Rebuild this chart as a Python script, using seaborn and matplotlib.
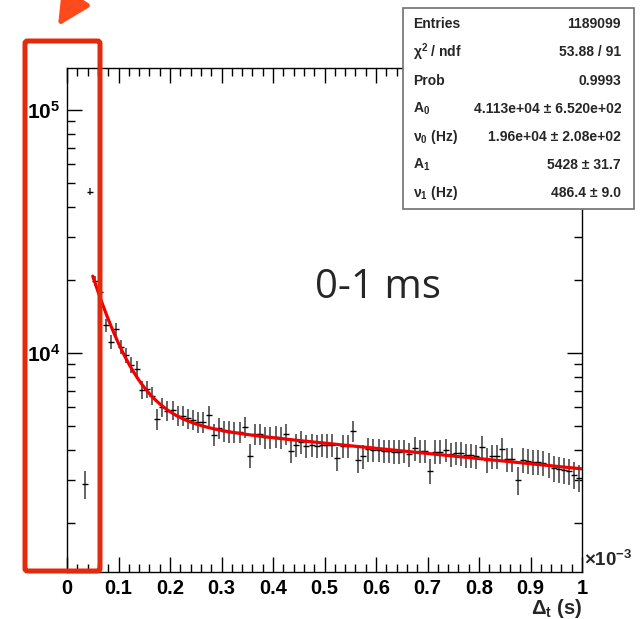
import numpy as np
import pandas as pd
import seaborn as sns
import matplotlib.pyplot as plt
from matplotlib.patches import Rectangle, FancyBboxPatch
from matplotlib.ticker import MultipleLocator, LogLocator, NullFormatter

# histogram: 1e-5 s bins, first filled bin centred at 0.035e-3 s
t_first = 0.035   # x10^-3 s
bin_width = 0.01  # x10^-3 s
counts = [2890, 46100, 19800, 17800, 13030, 11130, 12560, 10620, 9810, 8930,
          8590, 7050, 7120, 6660, 5350, 6010, 5800, 5830, 5510, 5510,
          5390, 5320, 5200, 5190, 5550, 4620, 4900, 4790, 4750, 4730,
          4730, 4970, 3780, 4640, 4640, 4500, 4500, 4530, 4480, 4640,
          3970, 4180, 4315, 4140, 4180, 4160, 4190, 4170, 4180, 3690,
          4140, 4140, 4790, 3630, 3770, 4015, 3990, 3990, 3960, 3960,
          3930, 3930, 3960, 3840, 4050, 3960, 3960, 3280, 3930, 3930,
          3990, 3840, 3890, 3870, 3810, 3810, 3770, 4115, 3630, 3770,
          3770, 4015, 3650, 3650, 3000, 3630, 3600, 3570, 3570, 3520,
          3460, 3360, 3330, 3300, 3260, 3160, 3070]
errors = [380, 1500, 985, 935, 800, 740, 785, 720, 695, 660,
          650, 590, 590, 570, 510, 545, 535, 535, 520, 520,
          515, 510, 505, 505, 520, 475, 490, 485, 480, 480,
          480, 495, 430, 475, 475, 470, 470, 470, 470, 475,
          440, 455, 460, 450, 455, 450, 455, 455, 455, 425,
          450, 450, 485, 420, 430, 445, 440, 440, 440, 440,
          440, 440, 440, 435, 445, 440, 440, 400, 440, 440,
          440, 435, 435, 435, 430, 430, 430, 450, 420, 430,
          430, 445, 425, 425, 385, 420, 420, 420, 420, 415,
          410, 405, 405, 400, 400, 395, 390]

# fit parameters from the stats box
A0, nu0 = 4.113e4, 1.96e4
A1, nu1 = 5428.0, 486.4
fit_lo, fit_hi = 0.05, 1.0  # x10^-3 s

stat_labels = ['Entries', r'$\mathbf{\chi^{2}}$ / ndf', 'Prob', r'$\mathbf{A_{0}}$',
               r'$\mathbf{\nu_{0}}$ (Hz)', r'$\mathbf{A_{1}}$', r'$\mathbf{\nu_{1}}$ (Hz)']
stat_values = ['1189099', '53.88 / 91', '0.9993', '4.113e+04 \u00b1 6.520e+02',
               '1.96e+04 \u00b1 2.08e+02', '5428 \u00b1 31.7', '486.4 \u00b1 9.0']
xtick_vals = [0, 0.1, 0.2, 0.3, 0.4, 0.5, 0.6, 0.7, 0.8, 0.9, 1.0]
xtick_labels = ['0', '0.1', '0.2', '0.3', '0.4', '0.5', '0.6', '0.7', '0.8', '0.9', '1']

sns.set_theme(style='white')
plt.rcParams['font.family'] = ['Liberation Sans', 'DejaVu Sans']
plt.rcParams['mathtext.fontset'] = 'custom'
plt.rcParams['mathtext.rm'] = 'Liberation Sans'
plt.rcParams['mathtext.bf'] = 'Liberation Sans:bold'
plt.rcParams['mathtext.it'] = 'Liberation Sans:italic'

W, H = 644, 619
fx = lambda px: px / W
fy = lambda py: 1 - py / H

df = pd.DataFrame({'t': t_first + bin_width * np.arange(len(counts)),
                   'n': counts, 'err': errors})

fig = plt.figure(figsize=(W / 100, H / 100), dpi=100)
ax = fig.add_axes([fx(67), fy(572), (582 - 67) / W, (572 - 68) / H])

ax.errorbar(df.t, df.n, yerr=df.err, fmt='none', ecolor='#4a4a4a', elinewidth=1.2, zorder=2)
sns.scatterplot(data=df, x='t', y='n', marker='_', s=14, color='black',
                linewidth=1.0, ax=ax, zorder=3, legend=False)

t_fit = np.linspace(fit_lo, fit_hi, 400)
f_fit = A0 * np.exp(-nu0 * t_fit * 1e-3) + A1 * np.exp(-nu1 * t_fit * 1e-3)
sns.lineplot(x=t_fit, y=f_fit, color='#f00000', lw=2.3, ax=ax, zorder=4)

ax.set_yscale('log')
ax.set_xlim(0, 1)
ax.set_ylim(1256, 1.49e5)
ax.set_xlabel('')
ax.set_ylabel('')

ax.set_xticks(xtick_vals)
ax.set_xticklabels(xtick_labels, fontweight='bold', fontsize=14.5)
ax.xaxis.set_minor_locator(MultipleLocator(0.02))
ax.set_yticks([1e4, 1e5])
ax.set_yticklabels([r'$\mathbf{10^{4}}$', r'$\mathbf{10^{5}}$'], fontsize=15)
ax.yaxis.set_minor_locator(LogLocator(base=10, subs=np.arange(2, 10)))
ax.yaxis.set_minor_formatter(NullFormatter())
ax.tick_params(which='major', direction='in', length=10.8, width=1,
               bottom=True, left=True, top=True, right=True, colors='black', pad=5)
ax.tick_params(which='minor', direction='in', length=5.8, width=1,
               bottom=True, left=True, top=True, right=True, colors='black')
for s in ax.spines.values():
    s.set_color('black')
    s.set_linewidth(1)

fig.text(fx(584), fy(560), r'$\mathbf{\times 10^{-3}}$', fontsize=13.5, ha='left', va='center')
fig.text(fx(582), fy(609), r'$\mathbf{\Delta_{t}}$ (s)', fontsize=14.5, fontweight='bold',
         ha='right', va='center')

fig.text(fx(315), fy(288), '0-1 ms', fontsize=29, family='Open Sans', ha='left', va='center')

# stats box
fig.add_artist(Rectangle((fx(403), fy(209)), (634 - 403) / W, (209 - 8) / H,
                         transform=fig.transFigure, facecolor='white',
                         edgecolor='#707070', lw=1.2, zorder=10))
row_y = [24, 52, 81, 109, 137, 165, 193]
for lab, val, yy in zip(stat_labels, stat_values, row_y):
    fig.text(fx(413), fy(yy), lab, fontsize=10, fontweight='bold', ha='left', va='center', zorder=11)
    fig.text(fx(621), fy(yy), val, fontsize=10, fontweight='bold', ha='right', va='center', zorder=11)

# red annotation box and arrow
fig.add_artist(FancyBboxPatch((fx(25), fy(571)), 75 / W, 530 / H,
                              boxstyle='round,pad=0,rounding_size=0.004',
                              transform=fig.transFigure, facecolor='none',
                              edgecolor='#e22a0c', lw=3.6, zorder=12))
ax.annotate('', xy=(fx(58), fy(26)), xycoords='figure fraction',
            xytext=(fx(100), fy(-40)), textcoords='figure fraction',
            arrowprops=dict(arrowstyle='-|>,head_length=1.1,head_width=0.55',
                            color='#ff4a1c', lw=3.6, mutation_scale=18,
                            shrinkA=0, shrinkB=0),
            annotation_clip=False)

fig.savefig('out.png', dpi=100)
